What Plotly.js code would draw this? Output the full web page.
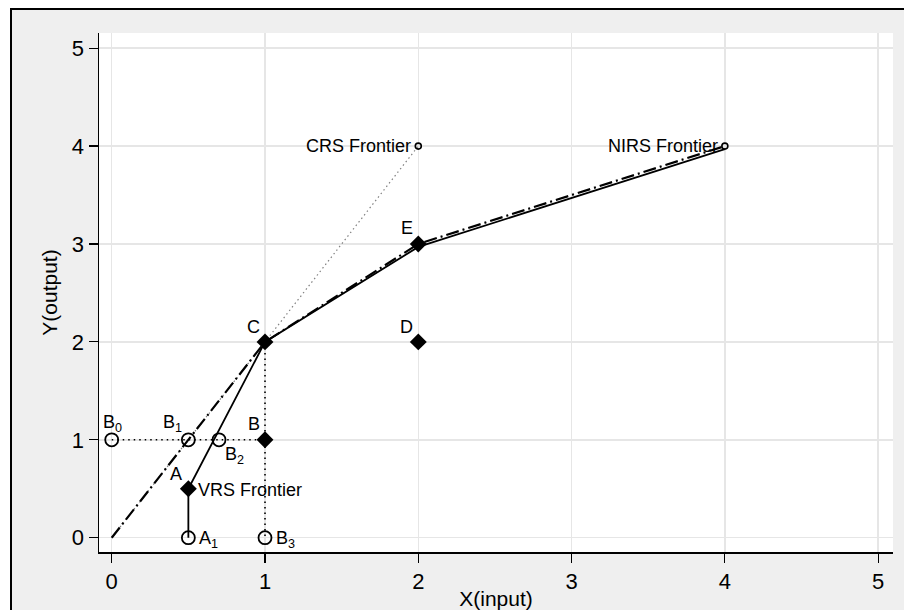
<!DOCTYPE html>
<html>
<head>
<meta charset="utf-8">
<script src="https://cdn.plot.ly/plotly-3.0.1.min.js"></script>
<style>
  html, body { margin: 0; padding: 0; background: #ffffff; }
  #frame { position: absolute; left: 10px; top: 8px; width: 900px; height: 610px;
           border-left: 2px solid #000; border-top: 2px solid #000; background: #efefef; }
  #chart { position: absolute; left: 0; top: 0; width: 904px; height: 610px; }
</style>
</head>
<body>
<div id="frame"></div>
<div id="chart"></div>
<script>
// ---- data ----
const diamondX = [0.5, 1, 1, 2, 2];
const diamondY = [0.5, 1, 2, 2, 3];
const diamondLabels = ['A', 'B', 'C', 'D', 'E'];

const openX = [0, 0.5, 0.7, 0.5, 1];
const openY = [1, 1, 1, 0, 0];
const openLabels = ['B<sub>0</sub>', 'B<sub>1</sub>', 'B<sub>2</sub>', 'A<sub>1</sub>', 'B<sub>3</sub>'];

const endX = [2, 4];
const endY = [4, 4];
const frontierLabels = ['CRS Frontier', 'NIRS Frontier', 'VRS Frontier'];
const frontierLabelX = [2, 4, 0.5];
const frontierLabelY = [4, 4, 0.5];

const vrsX = [0.5, 0.5, 1, 2, 4];
const vrsY = [0, 0.5, 2, 2.97, 3.97];
const nirsX = [0, 1, 2, 4];
const nirsY = [0, 2, 3, 4];
const crsX = [0, 2];
const crsY = [0, 4];
const hDotX = [0, 1];
const hDotY = [1, 1];
const vDotX = [1, 1];
const vDotY = [2, 0];

const xTicks = [0, 1, 2, 3, 4, 5];
const yTicks = [0, 1, 2, 3, 4, 5];

// ---- label placement (style) ----
const diamondLabelPos = [
  {xa: 'right', xs: -5, ys: 15},  // A
  {xa: 'right', xs: -4, ys: 16},  // B
  {xa: 'right', xs: -4, ys: 15},  // C
  {xa: 'right', xs: -4, ys: 15},  // D
  {xa: 'right', xs: -4, ys: 16}   // E
];
const openLabelPos = [
  {xa: 'center', xs: 1, ys: 16},   // B0
  {xa: 'right', xs: -5, ys: 16},   // B1
  {xa: 'left', xs: 5, ys: -16},    // B2
  {xa: 'left', xs: 10, ys: -2},    // A1
  {xa: 'left', xs: 10, ys: -2}     // B3
];
const frontierLabelPos = [
  {xa: 'right', xs: -6, ys: 0},
  {xa: 'right', xs: -6, ys: 0},
  {xa: 'left', xs: 9, ys: -1}
];

const FONT = 'Liberation Sans, Arial, Helvetica, sans-serif';

const traces = [
  { x: crsX, y: crsY, mode: 'lines', line: {color: '#808080', width: 1.2, dash: '1.5px,3px'}, hoverinfo: 'skip' },
  { x: hDotX, y: hDotY, mode: 'lines', line: {color: '#000', width: 1.6, dash: '1.5px,4px'}, hoverinfo: 'skip' },
  { x: vDotX, y: vDotY, mode: 'lines', line: {color: '#000', width: 1.6, dash: '1.5px,4px'}, hoverinfo: 'skip' },
  { x: nirsX, y: nirsY, mode: 'lines', line: {color: '#000', width: 2.2, dash: '13px,4px,2px,4px'}, hoverinfo: 'skip' },
  { x: vrsX, y: vrsY, mode: 'lines', line: {color: '#000', width: 1.8}, hoverinfo: 'skip' },
  { x: openX, y: openY, mode: 'markers',
    marker: {symbol: 'circle-open', size: 13, color: '#000', line: {color: '#000', width: 1.8}} },
  { x: endX, y: endY, mode: 'markers',
    marker: {symbol: 'circle-open', size: 6, color: '#000', line: {color: '#000', width: 1.6}} },
  { x: diamondX, y: diamondY, mode: 'markers',
    marker: {symbol: 'diamond', size: 13, color: '#000', line: {width: 0}} }
];

const annotations = [];
function addLabels(xs, ys, texts, pos) {
  for (let i = 0; i < texts.length; i++) {
    annotations.push({
      x: xs[i], y: ys[i], xref: 'x', yref: 'y', text: texts[i], showarrow: false,
      xanchor: pos[i].xa, yanchor: 'middle', xshift: pos[i].xs, yshift: pos[i].ys,
      borderpad: 0, font: {family: FONT, size: 18, color: '#000'}
    });
  }
}
addLabels(diamondX, diamondY, diamondLabels, diamondLabelPos);
addLabels(openX, openY, openLabels, openLabelPos);
addLabels(frontierLabelX, frontierLabelY, frontierLabels, frontierLabelPos);

const layout = {
  width: 904, height: 610,
  paper_bgcolor: 'rgba(0,0,0,0)',
  plot_bgcolor: '#ffffff',
  showlegend: false,
  margin: {l: 99, r: 11, t: 33, b: 58, pad: 0},
  font: {family: FONT, color: '#000'},
  xaxis: {
    range: [-0.083, 5.097], tickvals: xTicks, ticktext: xTicks.map(String),
    ticks: 'outside', ticklen: 9, tickwidth: 1.2, tickcolor: '#000',
    showline: true, linecolor: '#000', linewidth: 1.5, mirror: false,
    showgrid: true, gridcolor: '#e6e6e6', gridwidth: 1.5, zeroline: false,
    tickfont: {family: FONT, size: 22, color: '#000'},
    title: {text: 'X(input)', font: {family: FONT, size: 21, color: '#000'}, standoff: 0}
  },
  yaxis: {
    range: [-0.146, 5.155], tickvals: yTicks, ticktext: yTicks.map(String),
    ticks: 'outside', ticklen: 9, tickwidth: 1.2, tickcolor: '#000',
    showline: true, linecolor: '#000', linewidth: 1.5, mirror: false,
    showgrid: true, gridcolor: '#e6e6e6', gridwidth: 1.5, zeroline: false,
    tickfont: {family: FONT, size: 22, color: '#000'},
    title: {text: 'Y(output)', font: {family: FONT, size: 21, color: '#000'}, standoff: 8}
  },
  annotations: annotations
};

Plotly.newPlot('chart', traces, layout, {displayModeBar: false, staticPlot: true});
</script>
</body>
</html>
